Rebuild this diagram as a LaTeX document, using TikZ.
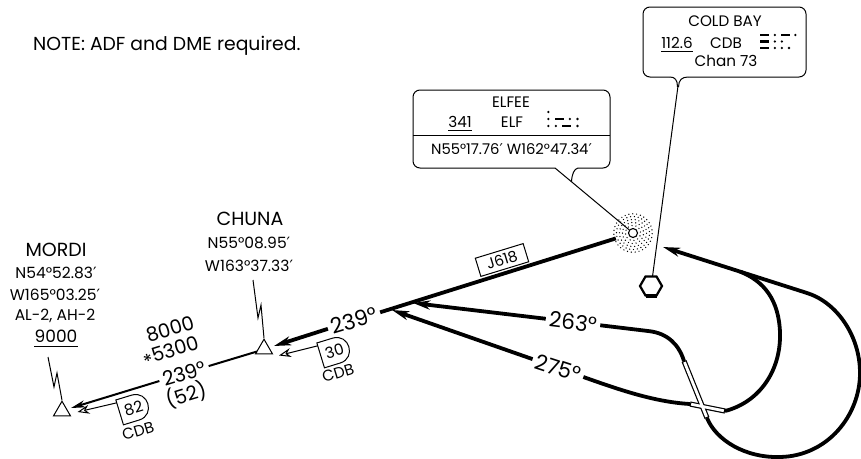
\documentclass[tikz,border=0pt]{standalone}
\usepackage{fontspec}
\setmainfont{Poppins}
\newfontfamily\primefont{DejaVu Sans}
\newcommand{\prm}{{\primefont ′}}
\usetikzlibrary{arrows.meta,shapes.geometric,calc}
\newcommand{\mrsdot}[2]{\fill (#1,#2) circle[radius=1.3];}
\newcommand{\mrsdash}[3]{\fill (#1,#2-1.3) rectangle (#3,#2+1.3);}
\begin{document}
\begin{tikzpicture}[x=1pt,y=-1pt,
  lbl/.style={inner sep=0pt,font=\fontsize{15.5}{18}\selectfont},
  fixname/.style={inner sep=0pt,font=\fontsize{19}{22}\selectfont},
  crs/.style={inner sep=3.5pt,font=\fontsize{21.5}{24}\selectfont},
  altlbl/.style={inner sep=0pt,font=\fontsize{19.5}{22}\selectfont},
  boxtxt/.style={inner sep=0pt,font=\fontsize{15.2}{17}\selectfont},
  route/.style={line width=3.8pt},
  airway/.style={line width=2pt},
  leader/.style={line width=1pt},
  bigarr/.style={-{Stealth[length=17pt,width=9pt,inset=5pt]}},
  smallarr/.style={-{Stealth[length=14pt,width=7pt,inset=4pt]}},
  openarr/.style={-{Stealth[open,length=12pt,width=9pt,inset=4pt]}},
  fixtri/.style={draw,regular polygon,regular polygon sides=3,minimum size=19.6pt,inner sep=0pt,line width=1pt},
  dmetxt/.style={inner sep=0pt,font=\fontsize{15.5}{18}\selectfont,rotate=17},
]
\useasboundingbox (0,0) rectangle (861,458);

% ---------- note
\node[anchor=base west,inner sep=0pt,font=\fontsize{18.8}{22}\selectfont] (note) at (33,50.5) {NOTE: ADF and DME required.};

% ---------- COLD BAY VOR-DME
\coordinate (vor) at (651,286);
\draw[leader,rounded corners=7] (670,77) -| (643,7) -| (806,77) -- (688,77);
\draw[leader] (670,77) .. controls (675,77) and (677.5,80) .. (677.5,87);
\draw[leader] (688,77) .. controls (682,77) and (678.5,80) .. (678.5,87);
\coordinate (cbneck) at (678,86);
\coordinate (vortop) at (652.5,276.5);
\draw[leader] (cbneck) -- (vortop);
\draw[line width=2.2pt] ($(vor)+(11,0)$) -- ($(vor)+(5.5,-9.5)$) -- ($(vor)+(-5.5,-9.5)$) -- ($(vor)+(-11,0)$) -- ($(vor)+(-5.5,9.5)$) -- ($(vor)+(5.5,9.5)$) -- cycle;
\fill ($(vor)+(-5.5,8)$) rectangle ($(vor)+(5.5,12)$);
\node[boxtxt] (cbname) at (725,21) {COLD BAY};
\node[boxtxt] (cbfreq) at (677,43) {112.6};
\draw[line width=0.9pt] ($(cbfreq.south west)+(0,2.5)$) -- ($(cbfreq.south east)+(0,2.5)$);
\node[boxtxt] (cbid) at (726,43) {CDB};
\node[boxtxt] (cbchan) at (726,61) {Chan 73};
% morse C D B
\mrsdash{760}{35}{769}\mrsdot{774.8}{35}\mrsdash{780.6}{35}{789.6}\mrsdot{795.4}{35}
\mrsdash{760}{41.5}{769}\mrsdot{774.8}{41.5}\mrsdot{781.9}{41.5}
\mrsdash{760}{48}{769}\mrsdot{774.8}{48}\mrsdot{781.9}{48}\mrsdot{789}{48}

% ---------- ELFEE NDB
\coordinate (ndb) at (633,233);
\foreach \r/\n in {7.5/12,10.5/17,13.5/22,16.5/27,19.2/31}{
  \foreach \i in {1,...,\n}{
    \fill[shift={(ndb)}] ({\i*360/\n+\r*11}:\r) circle[radius=0.7];
  }
}
\node[draw,circle,minimum size=9pt,inner sep=0pt,line width=1.1pt,fill=white] (ndbc) at (ndb) {};
\draw[leader,rounded corners=7] (555,168) -| (413,90) -| (610,168) -- (578,168);
\draw[leader] (578,168) .. controls (574,169) and (572,174) .. (571.5,181.5);
\draw[leader] (555,168) -- (ndbc);
\draw[leader] (413,135) -- (610,135);
\node[boxtxt] (elname) at (511,102) {ELFEE};
\node[boxtxt] (elfreq) at (460,122) {341};
\draw[line width=0.9pt] ($(elfreq.south west)+(0,2.5)$) -- ($(elfreq.south east)+(0,2.5)$);
\node[boxtxt] (elid) at (512,122) {ELF};
\node[boxtxt,font=\fontsize{14.8}{17}\selectfont] (elpos) at (511.5,149) {N55°17.76\prm{} W162°47.34\prm};
% morse E L F
\mrsdot{548.3}{112}
\mrsdot{548.3}{119}\mrsdash{554.6}{119}{563.6}\mrsdot{569.9}{119}\mrsdot{577.5}{119}
\mrsdot{548.3}{126}\mrsdot{555.9}{126}\mrsdash{562.2}{126}{571.2}\mrsdot{577.5}{126}

% ---------- fixes
\node[fixname] (mordiname) at (56,250) {MORDI};
\node[lbl] (mordin) at (56,273) {N54°52.83\prm};
\node[lbl] (mordiw) at (55,295) {W165°03.25\prm};
\node[lbl] (mordiawy) at (55,316) {AL-2, AH-2};
\node[lbl,font=\fontsize{17}{20}\selectfont] (mordimea) at (56,336) {9000};
\draw[line width=0.9pt] ($(mordimea.south west)+(0,4)$) -- ($(mordimea.south east)+(0,4)$);
\node[fixtri] (mordi) at (62,411) {};
\coordinate (mlt) at (48,357);
\draw[leader] (mlt) -- (54,387) -- (57,373) -- (mordi.corner 1);

\node[fixname] (chunaname) at (250,219) {CHUNA};
\node[lbl] (chunan) at (249,243) {N55°08.95\prm};
\node[lbl] (chunaw) at (249,266) {W163°37.33\prm};
\node[fixtri] (chuna) at (264,349) {};
\coordinate (clt) at (253,280);
\draw[leader] (clt) -- (258,318) -- (261,305) -- (chuna.corner 1);

% ---------- J618 inbound to CHUNA
\coordinate (j1) at (615.8,238.4);
\node[crs,rotate=17] (crs1) at (354,320.5) {239°};
\coordinate (tipC) at (274,346);
\draw[route] (j1) -- (crs1);
\draw[route,bigarr] (crs1) -- (tipC);
\node[draw,leader,rotate=17,minimum width=50pt,minimum height=19pt,inner sep=0pt,font=\fontsize{15}{17}\selectfont] (j618) at (502,260) {J618};

% ---------- CHUNA to MORDI
\coordinate (chl) at (257,351.5);
\node[crs,rotate=17,font=\fontsize{20}{22}\selectfont] (crs2) at (184,373.5) {239°};
\coordinate (tipM) at (71,408);
\draw[airway] (chl) -- (crs2);
\draw[airway,smallarr] (crs2) -- (tipM);
\node[altlbl,rotate=17] (alt1) at (170,329) {8000};
\node[altlbl,rotate=17] (alt2) at (171,352) {\raisebox{-0.35ex}{*}5300};
\node[altlbl,rotate=17] (dist1) at (186,395) {(52)};

% ---------- DME boxes
\begin{scope}[shift={(335,351)},rotate=17]
  \draw[leader,fill=white] (-15,-13) -- (1.5,-13) .. controls (18.8,-13) and (18.8,13) .. (1.5,13) -- (-15,13) -- cycle;
  \coordinate (d30a) at (-15,-10);
  \node[dmetxt] (d30) at (-0.5,0) {30};
\end{scope}
\coordinate (tip30) at (279,355.5);
\draw[leader,openarr] (d30a) -- (tip30);
\node[dmetxt] (cdb30) at (338,373) {CDB};

\begin{scope}[shift={(134,408)},rotate=17]
  \draw[leader,fill=white] (-15,-13) -- (1.5,-13) .. controls (18.8,-13) and (18.8,13) .. (1.5,13) -- (-15,13) -- cycle;
  \coordinate (d82a) at (-15,-10);
  \node[dmetxt] (d82) at (-0.5,0) {82};
\end{scope}
\coordinate (tip82) at (77.5,412);
\draw[leader,openarr] (d82a) -- (tip82);
\node[dmetxt] (cdb82) at (138,431) {CDB};

% ---------- 263 and 275 tracks
\coordinate (tip263) at (413,303);
\coordinate (tip275) at (392,310);
\coordinate (f1) at (684,361);
\coordinate (f2) at (707,418);
\coordinate (w1) at (690,404);
\coordinate (w2) at (725,411);
\node[crs,rotate=-7] (l263) at (573,322) {263°};
\node[crs,rotate=-18] (l275) at (558,368) {275°};
\draw[route,bigarr] (l263) -- (tip263);
\draw[route,bigarr] (l275) -- (tip275);
\draw[route] (l263) -- (648,331) .. controls (668,333) and (679,345) .. (f1);
\draw[route] (l275) .. controls (620,390) and (655,402) .. (w1);

% ---------- loops to COLD BAY
\coordinate (tipV) at (663,247);
\coordinate (merge) at (740,271.6);
\draw[route] (w2) .. controls (760,402) and (781,370) .. (780,333) .. controls (779,300) and (764,281) .. (merge);
\draw[route,bigarr] (f2) .. controls (716,440) and (745,458) .. (780,457) .. controls (828,456) and (860,415) .. (860,373) .. controls (860,335) and (836,302) .. (807,293) -- (tipV);

% ---------- crossing bars
\draw[line width=5.2pt] (f1) -- (f2);
\draw[line width=5.2pt] (w1) -- (w2);
\draw[white,line width=2.8pt,shorten <=1.2pt,shorten >=1.2pt] (f1) -- (f2);
\draw[white,line width=2.8pt,shorten <=1.2pt,shorten >=1.2pt] (w1) -- (w2);
\end{tikzpicture}
\end{document}
